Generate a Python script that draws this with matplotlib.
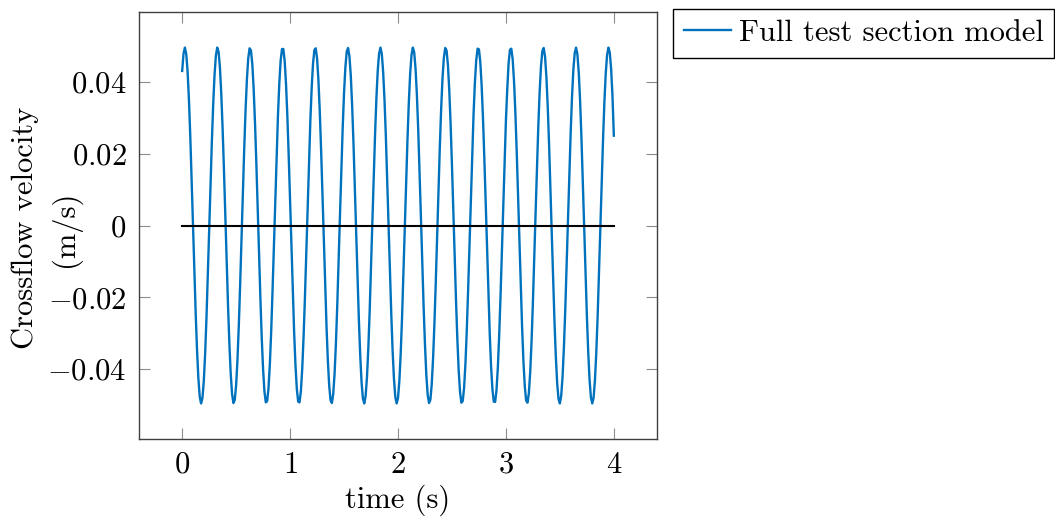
# Crossflow velocity of the full test section model
import numpy as np
import matplotlib.pyplot as plt

# velocity at t = 0, 0.025, 0.05, ... 4 s
velocity_grid = [
    0.0430,
    0.0495, 0.0430, 0.0250, 0.0005, -0.0242, -0.0424, -0.0495, -0.0435, -0.0259, -0.0016, 0.0232, 0.0419,
    0.0495, 0.0439, 0.0268, 0.0026, -0.0223, -0.0413, -0.0494, -0.0444, -0.0277, -0.0036, 0.0214, 0.0407,
    0.0493, 0.0449, 0.0285, 0.0047, -0.0204, -0.0401, -0.0492, -0.0453, -0.0294, -0.0057, 0.0195, 0.0395,
    0.0491, 0.0457, 0.0302, 0.0067, -0.0185, -0.0389, -0.0490, -0.0461, -0.0310, -0.0077, 0.0176, 0.0382,
    0.0488, 0.0465, 0.0318, 0.0088, -0.0166, -0.0376, -0.0486, -0.0468, -0.0326, -0.0098, 0.0156, 0.0369,
    0.0484, 0.0471, 0.0334, 0.0108, -0.0146, -0.0362, -0.0482, -0.0474, -0.0341, -0.0118, 0.0136, 0.0355,
    0.0479, 0.0477, 0.0349, 0.0128, -0.0126, -0.0348, -0.0477, -0.0480, -0.0356, -0.0138, 0.0116, 0.0340,
    0.0474, 0.0482, 0.0363, 0.0148, -0.0106, -0.0332, -0.0471, -0.0485, -0.0370, -0.0158, 0.0096, 0.0325,
    0.0467, 0.0487, 0.0377, 0.0168, -0.0086, -0.0317, -0.0464, -0.0488, -0.0384, -0.0177, 0.0076, 0.0309,
    0.0460, 0.0490, 0.0390, 0.0187, -0.0065, -0.0301, -0.0456, -0.0491, -0.0396, -0.0197, 0.0055, 0.0292,
    0.0452, 0.0492, 0.0402, 0.0206, -0.0045, -0.0284, -0.0448, -0.0493, -0.0408, -0.0215, 0.0035, 0.0275,
    0.0443, 0.0494, 0.0414, 0.0225, -0.0024, -0.0267, -0.0439, -0.0495, -0.0420, -0.0234, 0.0014, 0.0258,
    0.0434, 0.0495, 0.0425, 0.0243, -0.0003, -0.0249, -0.0429, -0.0495, -0.0430, -0.0252, -0.0007, 0.0240,
    0.0423, 0.0495, 0.0435, 0.0250,
]
# and half way between, at t = 0.0125, 0.0375, ... 3.9875 s
velocity_mid = [
    0.0478,
    0.0478, 0.0352, 0.0132, -0.0122, -0.0344, -0.0476, -0.0481, -0.0359, -0.0142, 0.0112, 0.0337, 0.0473,
    0.0483, 0.0366, 0.0152, -0.0102, -0.0329, -0.0469, -0.0485, -0.0373, -0.0162, 0.0092, 0.0321, 0.0466,
    0.0487, 0.0380, 0.0172, -0.0082, -0.0314, -0.0462, -0.0489, -0.0386, -0.0181, 0.0071, 0.0305, 0.0459,
    0.0491, 0.0393, 0.0191, -0.0061, -0.0297, -0.0455, -0.0492, -0.0399, -0.0201, 0.0051, 0.0289, 0.0450,
    0.0493, 0.0405, 0.0210, -0.0041, -0.0280, -0.0446, -0.0494, -0.0411, -0.0219, 0.0030, 0.0272, 0.0441,
    0.0494, 0.0417, 0.0229, -0.0020, -0.0263, -0.0437, -0.0495, -0.0422, -0.0238, 0.0010, 0.0254, 0.0432,
    0.0495, 0.0427, 0.0247, 0.0001, -0.0245, -0.0426, -0.0495, -0.0433, -0.0256, -0.0011, 0.0236, 0.0421,
    0.0495, 0.0437, 0.0265, 0.0022, -0.0227, -0.0416, -0.0494, -0.0442, -0.0273, -0.0032, 0.0218, 0.0410,
    0.0494, 0.0447, 0.0282, 0.0042, -0.0208, -0.0404, -0.0493, -0.0451, -0.0290, -0.0053, 0.0199, 0.0398,
    0.0492, 0.0455, 0.0299, 0.0063, -0.0189, -0.0392, -0.0490, -0.0459, -0.0307, -0.0073, 0.0180, 0.0380,
    0.0489, 0.0463, 0.0315, 0.0083, -0.0170, -0.0379, -0.0487, -0.0467, -0.0323, -0.0094, 0.0160, 0.0372,
    0.0485, 0.0470, 0.0331, 0.0104, -0.0150, -0.0365, -0.0483, -0.0473, -0.0338, -0.0114, 0.0141, 0.0358,
    0.0480, 0.0476, 0.0346, 0.0124, -0.0131, -0.0351, -0.0478, -0.0479, -0.0353, -0.0134, 0.0121, 0.0343,
    0.0475, 0.0481, 0.0360,
]

zero_t = [0, 4]
zero_v = [0, 0]

x_ticks = [0, 1, 2, 3, 4]
x_labels = ['$0$', '$1$', '$2$', '$3$', '$4$']
y_ticks = [-0.04, -0.02, 0, 0.02, 0.04]
y_labels = ['$-0.04$', '$-0.02$', '$0$', '$0.02$', '$0.04$']

velocity = np.empty(len(velocity_grid) + len(velocity_mid))
velocity[0::2] = velocity_grid
velocity[1::2] = velocity_mid
time = np.linspace(0, 4, len(velocity))

plt.rcParams['font.family'] = 'cmr10'
plt.rcParams['mathtext.fontset'] = 'cm'
fs = 22

fig = plt.figure(figsize=(10.55, 5.25), dpi=100)
ax = fig.add_axes([139 / 1055, 86 / 525, 518 / 1055, 427 / 525])

ax.plot(time, velocity, color='#0072BD', lw=1.7, label='Full test section model')
ax.plot(zero_t, zero_v, color='black', lw=1.5)

ax.set_xlim(-0.4, 4.4)
ax.set_ylim(-0.0594, 0.0594)
ax.set_xticks(x_ticks)
ax.set_xticklabels(x_labels, fontsize=fs)
ax.set_yticks(y_ticks)
ax.set_yticklabels(y_labels, fontsize=fs)
ax.tick_params(direction='in', length=8, width=0.8, color='0.55',
               top=True, right=True, pad=9)
for s in ax.spines.values():
    s.set_color('0.25')
    s.set_linewidth(1.0)

ax.set_xlabel('time (s)', fontsize=fs, labelpad=4)
# y label in two lines, like the pgfplots original
fig.text(25.5 / 1055, 1 - 228 / 525, 'Crossflow velocity', fontsize=fs,
         rotation=90, ha='center', va='center')
fig.text(65.5 / 1055, 1 - 229 / 525, '(m/s)', fontsize=fs,
         rotation=90, ha='center', va='center')

leg = ax.legend(loc='upper left', bbox_to_anchor=(673 / 1055, 1 - 9 / 525),
                bbox_transform=fig.transFigure, fontsize=fs, fancybox=False,
                edgecolor='black', framealpha=1, handlelength=1.55,
                handletextpad=0.25, borderpad=0.35, borderaxespad=0)
leg.get_frame().set_linewidth(1.0)

fig.savefig('out.png', dpi=100)
